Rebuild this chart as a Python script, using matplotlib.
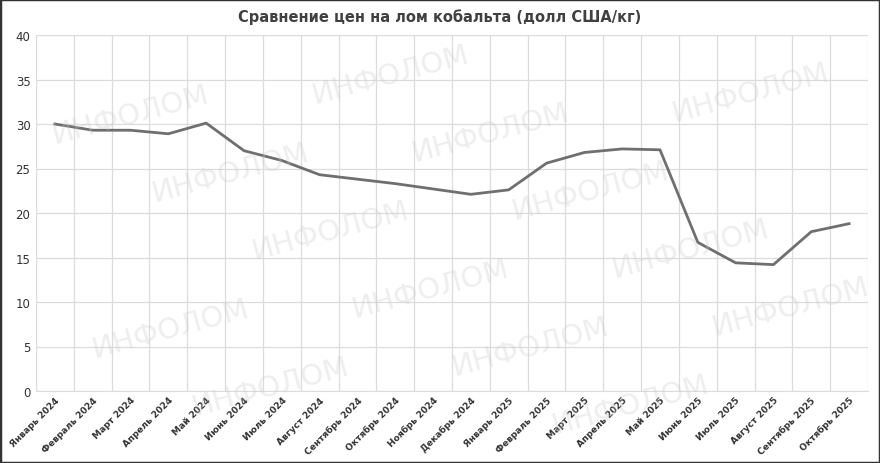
import numpy as np
import matplotlib
matplotlib.use("Agg")
import matplotlib.pyplot as plt
from matplotlib.patches import Rectangle

months = ["Январь 2024", "Февраль 2024", "Март 2024", "Апрель 2024", "Май 2024",
          "Июнь 2024", "Июль 2024", "Август 2024", "Сентябрь 2024", "Октябрь 2024",
          "Ноябрь 2024", "Декабрь 2024", "Январь 2025", "Февраль 2025", "Март 2025",
          "Апрель 2025", "Май 2025", "Июнь 2025", "Июль 2025", "Август 2025",
          "Сентябрь 2025", "Октябрь 2025"]
prices = [30.0, 29.3, 29.3, 28.9, 30.1, 27.0, 25.9, 24.3, 23.8, 23.3, 22.7,
          22.1, 22.6, 25.6, 26.8, 27.2, 27.1, 16.7, 14.4, 14.2, 17.9, 18.8]
yticks = [0, 5, 10, 15, 20, 25, 30, 35, 40]

plt.rcParams['font.family'] = ['DejaVu Sans']
fig = plt.figure(figsize=(8.8, 4.64), dpi=100)
ax = fig.add_axes([36/880, 1-392/464, 832/880, 356/464])

n = len(months)
x = np.arange(n)
ax.plot(x, prices, color='#6f6f6f', lw=2.0, zorder=3)

ax.set_xlim(-0.5, n - 0.5)
ax.set_ylim(0, 40)
ax.set_yticks(yticks)
ax.set_yticklabels([str(v) for v in yticks], fontsize=8.5, color='#333333')
ax.set_xticks(x)
ax.set_xticklabels(months, rotation=45, ha='right', rotation_mode='anchor',
                   fontsize=6.5, color='#333333', fontweight='bold')
ax.set_xticks(np.arange(-0.5, n, 1), minor=True)
ax.tick_params(axis='both', which='both', length=0, pad=4)
ax.tick_params(axis='x', pad=3)
ax.grid(False)
ax.grid(True, which='minor', axis='x', color='#dcdcdc', lw=0.9)
ax.grid(True, which='major', axis='y', color='#dcdcdc', lw=0.9)
ax.set_axisbelow(True)
for s in ax.spines.values():
    s.set_visible(False)
ax.spines['bottom'].set_visible(True)
ax.spines['bottom'].set_color('#dcdcdc')

fig.text(0.5, 1 - 17/464, "Сравнение цен на лом кобальта (долл США/кг)",
         ha='center', va='center', fontsize=10.5, fontweight='bold', color='#404040')

# watermark, only the copies that fit inside the picture
for row in range(-2, 8):
    for col in range(-1, 5):
        cx = 130 + col * 260 + row * 100
        cy = 115 + row * 58 - col * 40
        if 85 < cx < 795 and 40 < cy < 425:
            fig.text(cx/880, 1 - cy/464, "ИНФОЛОМ", fontsize=21, color='#c8c8c8',
                     alpha=0.3, rotation=15, ha='center', va='center', zorder=10)

fig.patches.append(Rectangle((0, 0), 1, 1, transform=fig.transFigure, fill=False,
                             edgecolor='#333333', lw=2.5))

fig.savefig("out.png", dpi=100)
